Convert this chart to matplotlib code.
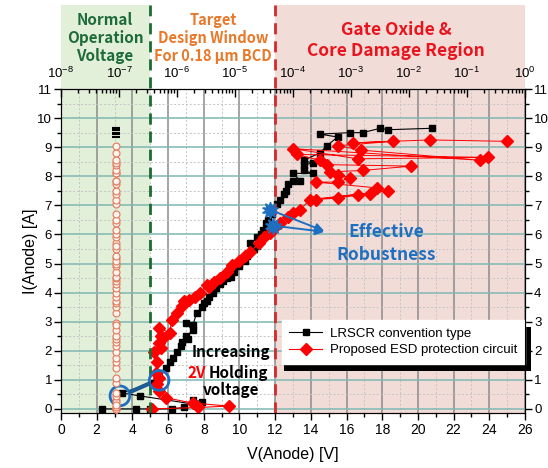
import matplotlib
matplotlib.use("Agg")
import matplotlib.pyplot as plt
import matplotlib.transforms as mtransforms
from matplotlib.patches import Rectangle, Ellipse
from matplotlib.lines import Line2D
from matplotlib.ticker import MultipleLocator, FixedLocator, LogLocator, NullFormatter

plt.rcParams['font.family'] = ['Liberation Sans', 'DejaVu Sans']
plt.rcParams['mathtext.default'] = 'regular'

# TLP I-V data, conventional LRSCR
lrscr_v = [2.3, 4.2, 5.0, 6.2, 6.9, 7.4, 7.9, 7.6, 4.4, 3.4, 5.2, 5.5, 5.9, 6.1, 6.3,
           6.5, 6.7, 6.8, 7.1, 7.0, 7.4, 7.0, 7.4, 7.6, 7.9, 8.0, 8.2, 8.3, 8.5, 8.7,
           8.9, 9.1, 9.3, 9.5, 9.7, 10.0, 10.0, 10.2, 10.3, 10.4, 10.6, 10.8, 11.0, 11.0, 11.2,
           11.3, 11.5, 11.6, 11.8, 12.1, 12.3, 12.5, 12.6, 12.7, 13.0, 13.4, 13.0, 14.1, 13.6, 13.6,
           14.1, 13.6, 14.5, 14.9, 15.5, 14.5, 16.2, 16.9, 17.9, 18.3, 20.8]
lrscr_i = [0.0, 0.0, 0.0, 0.0, 0.05, 0.3, 0.25, 0.15, 0.45, 0.55, 0.9, 1.05, 1.4, 1.6, 1.75,
           1.95, 2.15, 2.3, 2.4, 2.5, 2.7, 2.95, 2.9, 3.3, 3.5, 3.65, 3.7, 3.85, 4.0, 4.15,
           4.3, 4.4, 4.5, 4.55, 4.7, 4.9, 5.0, 5.2, 5.1, 5.25, 5.7, 5.5, 5.6, 5.9, 6.0,
           6.15, 6.4, 6.5, 6.7, 7.05, 7.2, 7.4, 7.5, 7.75, 7.85, 7.85, 8.1, 8.1, 8.2, 8.4,
           8.45, 8.55, 8.8, 9.05, 9.35, 9.45, 9.5, 9.5, 9.65, 9.6, 9.65]
lrscr_leak_level = 9e-8      # leakage after each pulse [A]
lrscr_leak_fail = 9.25       # last pulse current with stable leakage

# TLP I-V data, proposed ESD protection circuit
esd_v = [5.1, 7.7, 9.4, 7.4, 5.9, 5.5, 5.4, 5.5, 5.3, 5.4, 5.2, 5.6, 5.5, 5.7, 5.6,
         5.5, 6.1, 6.2, 6.5, 6.8, 6.9, 7.2, 7.5, 7.8, 8.2, 8.3, 8.6, 8.9, 9.3, 9.6,
         10.0, 10.3, 10.6, 11.1, 11.4, 11.7, 12.0, 12.3, 12.7, 13.0]
esd_i = [0.0, 0.05, 0.1, 0.2, 0.38, 0.6, 0.85, 1.05, 1.25, 1.6, 1.95, 2.1, 2.25, 2.45, 2.5,
         2.8, 2.6, 3.05, 3.3, 3.55, 3.7, 3.75, 3.85, 4.0, 4.25, 4.2, 4.35, 4.5, 4.7, 4.95,
         5.1, 5.25, 5.4, 5.7, 5.9, 6.05, 6.25, 6.4, 6.6, 6.75]
# leakage [A] vs pulse current [A] for the proposed circuit (top axis)
esd_leak_a = [1.3e-4, 2.0e-4, 4.3e-3, 2.5e-4, 5.9e-4, 1.3e-3, 2.1e-3, 2.8e-3, 2.5e-4, 5.9e-4,
              9.7e-4, 5.9e-4, 4.4e-4, 1.6e-3, 1.1e-2, 3.8e-4, 2.9e-4, 1.15e-4, 0.23, 1.3e-3,
              1.0e-4, 0.17, 1.5e-3, 5.9e-4, 5.3e-3, 1.1e-3, 2.3e-2, 0.49]
esd_leak_i = [6.85, 7.2, 7.5, 7.2, 7.25, 7.35, 7.4, 7.6, 7.8, 7.8,
              7.95, 8.05, 8.15, 8.2, 8.35, 8.4, 8.55, 8.75, 8.65, 8.6,
              8.95, 8.55, 8.9, 9.05, 9.2, 9.15, 9.25, 9.2]

# failure points (It2) and holding points
it2_v = [11.7, 11.9]
it2_i = [6.85, 6.3]
hold_v = [3.3, 5.5]
hold_i = [0.45, 0.98]

top_decades = [1e-8, 1e-7, 1e-6, 1e-5, 1e-4, 1e-3, 1e-2, 1e-1, 1e0]
region_edges = [0, 5, 12, 26]
BLUE = '#1f6fc0'
kfont = ['Noto Sans CJK KR', 'DejaVu Sans']

fig = plt.figure(figsize=(5.48, 4.68), dpi=100)
ax = fig.add_axes([0.1113, 0.1175, 0.8467, 0.6923])
ax.set_xlim(0, 26)
ax.set_ylim(-0.14, 11)
ax.patch.set_visible(False)

# background regions behind both axes, reaching above the frame
shade_tf = mtransforms.blended_transform_factory(ax.transData, fig.transFigure)
shade_y0, shade_y1 = 0.1175, 1 - 5 / 468
for (x0, x1), col in [((region_edges[0], region_edges[1]), '#e2efd9'),
                      ((region_edges[2], region_edges[3]), '#f2dcd8')]:
    fig.add_artist(Rectangle((x0, shade_y0), x1 - x0, shade_y1 - shade_y0, transform=shade_tf,
                             facecolor=col, edgecolor='none', zorder=-1))

blend = ax.get_xaxis_transform()
ax.plot([region_edges[1]] * 2, [0, 1.26], transform=blend, clip_on=False, color='#1b6b32',
        lw=2, ls=(0, (4, 2.5)), zorder=6)
ax.plot([region_edges[2]] * 2, [0, 1.26], transform=blend, clip_on=False, color='#d42a2a',
        lw=2, ls=(0, (4, 2.5)), zorder=6)

# grid
ax.xaxis.set_major_locator(MultipleLocator(2))
ax.xaxis.set_minor_locator(MultipleLocator(1))
ax.yaxis.set_major_locator(MultipleLocator(1))
ax.yaxis.set_minor_locator(MultipleLocator(0.5))
ax.grid(which='minor', color='#c4c4c4', lw=0.7, ls=(0, (2, 2)), zorder=1)
ax.grid(which='major', axis='x', color='#8c8c8c', lw=1.1, zorder=1)
ax.grid(which='major', axis='y', color='#7fb8b2', lw=1.1, zorder=1)
ax.set_axisbelow(True)

ax.tick_params(which='major', direction='out', length=5, width=1, labelsize=10,
               right=True, labelright=True, top=False, pad=2.5)
ax.tick_params(axis='y', which='major', labelsize=9.5, pad=1.5)
ax.tick_params(which='minor', direction='out', length=3, width=1, right=True, top=False)
ax.set_xlabel('V(Anode) [V]', fontsize=11.5, labelpad=7)
ax.set_ylabel('I(Anode) [A]', fontsize=11.5, labelpad=-1)

# TLP curves
ax.plot(lrscr_v, lrscr_i, color='black', lw=0.8, marker='s', ms=5, mec='black', mfc='black', zorder=4)
ax.plot(esd_v, esd_i, color='red', lw=0.8, marker='D', ms=6, mec='red', mfc='red', zorder=4)

# leakage on the top log axis
ax_top = ax.twiny()
ax_top.set_xscale('log')
ax_top.set_xlim(1e-8, 1)
ax_top.xaxis.set_major_locator(FixedLocator(top_decades))
ax_top.xaxis.set_minor_locator(LogLocator(base=10, subs=range(2, 10), numticks=20))
ax_top.xaxis.set_minor_formatter(NullFormatter())
ax_top.tick_params(which='major', direction='in', length=6, width=1, labelsize=9.5, pad=6)
ax_top.tick_params(which='minor', direction='in', length=3, width=1)

stable = [i for i in lrscr_i if i <= lrscr_leak_fail]
failed = [i for i in lrscr_i if i > lrscr_leak_fail]
ax_top.plot([lrscr_leak_level] * len(stable), stable, ls='none', marker='o', ms=5,
            mec='#e2785a', mfc='#fff4ee', mew=0.8, zorder=3)
ax_top.plot([lrscr_leak_level] * len(failed), failed, ls='none', marker='_', ms=6,
            mec='black', mew=1.5, zorder=3)
ax_top.plot(esd_leak_a, esd_leak_i, color='red', lw=0.7, marker='D', ms=6,
            mec='red', mfc='red', zorder=3)

# failure markers and arrows
ax.plot(it2_v, it2_i, ls='none', marker=(10, 1, 0), ms=12, color=BLUE, zorder=7)
for v, i in zip(it2_v, it2_i):
    ax.annotate('', xy=(14.9, 6.08), xytext=(v, i),
                arrowprops=dict(arrowstyle='-|>', color=BLUE, lw=1.4, mutation_scale=13), zorder=7)
ax.text(18.2, 6.08, 'Effective', color=BLUE, fontsize=12.5, fontweight='bold',
        family=kfont, ha='center', va='center', zorder=8)
ax.text(18.2, 5.3, 'Robustness', color=BLUE, fontsize=12.5, fontweight='bold',
        family=kfont, ha='center', va='center', zorder=8)

# holding voltage shift
for v, i in zip(hold_v, hold_i):
    ax.add_patch(Ellipse((v, i), 1.1, 0.68, fill=False, edgecolor=BLUE, lw=2, zorder=7))
ax.annotate('', xy=(hold_v[1] - 0.45, hold_i[1] - 0.08), xytext=(hold_v[0] + 0.45, hold_i[0] + 0.1),
            arrowprops=dict(arrowstyle='-', color='#1d5b94', lw=3), zorder=7)
ax.text(9.5, 1.95, 'Increasing', fontsize=11, fontweight='bold', family=kfont,
        ha='center', va='center', zorder=8)
ax.text(8.1, 1.25, '2V', fontsize=11, fontweight='bold', family=kfont, color='red',
        ha='right', va='center', zorder=8)
ax.text(8.3, 1.25, 'Holding', fontsize=11, fontweight='bold', family=kfont,
        ha='left', va='center', zorder=8)
ax.text(9.5, 0.65, 'voltage', fontsize=11, fontweight='bold', family=kfont,
        ha='center', va='center', zorder=8)

# legend with a solid drop shadow
handles = [Line2D([], [], color='black', lw=0.8, marker='s', ms=5),
           Line2D([], [], color='red', lw=0.8, marker='D', ms=6)]
leg = ax.legend(handles, ['LRSCR convention type', 'Proposed ESD protection circuit'],
                loc='upper right', bbox_to_anchor=(1.0, 0.287), borderaxespad=0,
                fancybox=False, framealpha=1, facecolor='white', edgecolor='white',
                handlelength=2.5, borderpad=0.55, labelspacing=0.35, handletextpad=0.6,
                prop={'family': ['Liberation Sans Narrow', 'Liberation Sans'], 'size': 9.5})
leg.set_zorder(9)
fig.canvas.draw()
bb = leg.get_window_extent()
ax.add_patch(Rectangle((bb.x0 + 2, bb.y0 - 7), bb.width + 4, bb.height,
                       transform=mtransforms.IdentityTransform(), facecolor='black',
                       edgecolor='none', clip_on=False, zorder=8.9))

# region headings
def heading(x_px, y_px, s, color, size):
    fig.text(x_px / 548, 1 - y_px / 468, s, color=color, fontsize=size, fontweight='bold',
             family=kfont, ha='center', va='center')

heading(105, 20, 'Normal', '#1e6b3a', 11)
heading(105, 38, 'Operation', '#1e6b3a', 11)
heading(105, 56, 'Voltage', '#1e6b3a', 11)
heading(213, 20, 'Target', '#e8782a', 10.5)
heading(213, 38, 'Design Window', '#e8782a', 10.5)
heading(213, 56, 'For 0.18 \u00b5m BCD', '#e8782a', 10.5)
heading(396, 30, 'Gate Oxide &', '#e8141e', 12.5)
heading(396, 51, 'Core Damage Region', '#e8141e', 12.5)

fig.savefig('out.png', dpi=100)
